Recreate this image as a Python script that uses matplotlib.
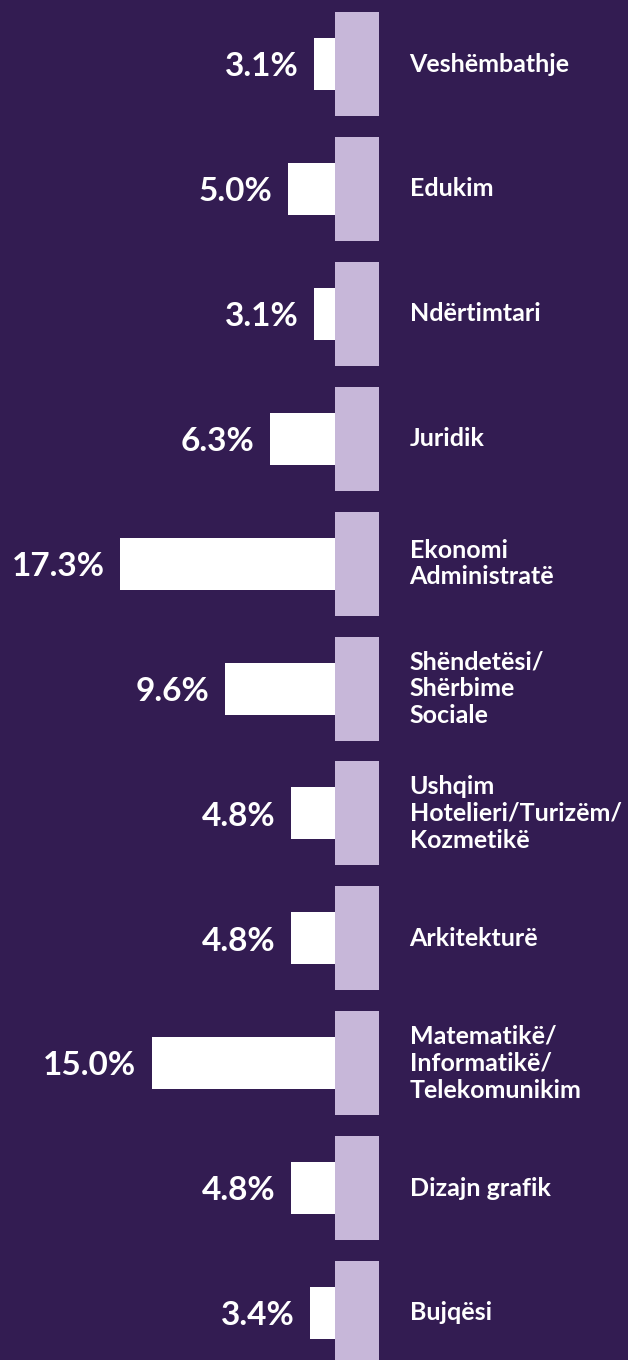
import matplotlib
matplotlib.use("Agg")
import matplotlib.pyplot as plt

categories = ["Veshëmbathje", "Edukim", "Ndërtimtari", "Juridik",
              "Ekonomi\nAdministratë", "Shëndetësi/\nShërbime\nSociale",
              "Ushqim\nHotelieri/Turizëm/\nKozmetikë", "Arkitekturë",
              "Matematikë/\nInformatikë/\nTelekomunikim", "Dizajn grafik", "Bujqësi"]
values = [3.1, 5.0, 3.1, 6.3, 17.3, 9.6, 4.8, 4.8, 15.0, 4.8, 3.4]
value_labels = ["3.1%", "5.0%", "3.1%", "6.3%", "17.3%", "9.6%", "4.8%",
                "4.8%", "15.0%", "4.8%", "3.4%"]

BG = "#331C52"
LAV = "#C7B7D9"
FONT = ["Lato", "DejaVu Sans"]

W, H = 628, 1360
fig = plt.figure(figsize=(W / 100, H / 100), dpi=100, facecolor=BG)
ax = fig.add_axes([0, 0, 1, 1])
ax.set_facecolor(BG)

# scale: 13.63 px per percent, zero at pixel 356 (hidden behind lavender block)
px_per = 13.63
x0_px = 356.0
ax.set_xlim(x0_px / px_per, -(W - x0_px) / px_per)
pitch = 124.9
c0 = 64.0
ax.set_ylim((H - c0) / pitch, -c0 / pitch)

ys = list(range(len(categories)))
ax.barh(ys, values, left=0, height=52 / pitch, color="white", zorder=2)

blk_left = (x0_px - 379) / px_per
blk_right = (x0_px - 335) / px_per
ax.barh(ys, [blk_right - blk_left] * len(ys), left=blk_left,
        height=104 / pitch, color=LAV, zorder=3)

for y, v, lab, cat in zip(ys, values, value_labels, categories):
    ax.annotate(lab, xy=(v, y), xytext=(-11, -2), textcoords="offset points",
                ha="right", va="center", color="white", fontsize=24,
                fontweight="bold", family=FONT)
    ax.annotate(cat, xy=(blk_left, y), xytext=(22, 0), textcoords="offset points",
                ha="left", va="center", color="white", fontsize=18,
                fontweight="bold", family=FONT, linespacing=1.2)

ax.axis("off")
fig.savefig("out.png", dpi=100, facecolor=BG)
